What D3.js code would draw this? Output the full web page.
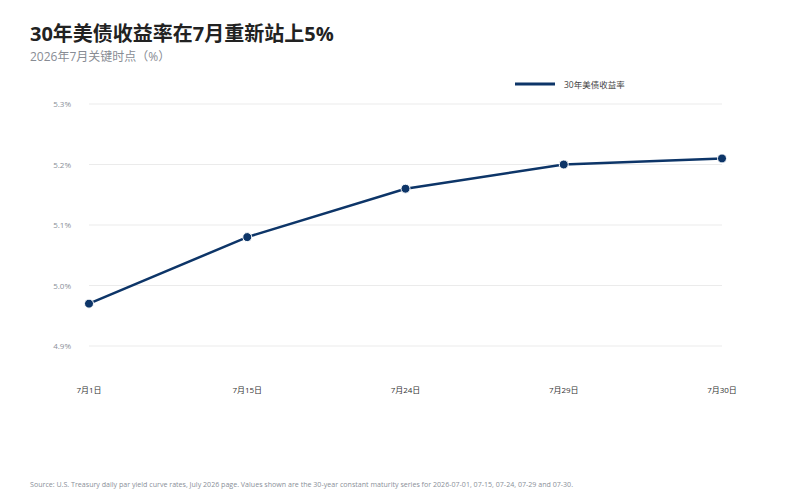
<!DOCTYPE html>
<html>
<head>
<meta charset="utf-8">
<script src="https://cdn.jsdelivr.net/npm/d3@7.9.0/dist/d3.min.js"></script>
<style>
  body { margin: 0; background: #fff; }
  svg { display: block; font-family: "Open Sans", "Noto Sans CJK SC", sans-serif; }
</style>
</head>
<body>
<svg width="792" height="496"></svg>
<script>
const dates = ['7月1日', '7月15日', '7月24日', '7月29日', '7月30日'];
const yields = [4.97, 5.08, 5.16, 5.20, 5.21];
const yTicks = [4.9, 5.0, 5.1, 5.2, 5.3];

const svg = d3.select('svg');
const color = '#0d3568';

const x = d3.scalePoint().domain(dates).range([89, 722]).padding(0);
const y = d3.scaleLinear().domain([4.9, 5.3]).range([346, 104]);

// title
svg.append('text')
  .attr('x', 30).attr('y', 41)
  .attr('font-size', 20).attr('font-weight', 700).attr('fill', '#222')
  .text('30年美债收益率在7月重新站上5%');
svg.append('text')
  .attr('x', 30).attr('y', 61)
  .attr('font-size', 12).attr('fill', '#888c94')
  .text('2026年7月关键时点（%）');

// grid
svg.append('g')
  .selectAll('line')
  .data(yTicks)
  .join('line')
  .attr('x1', 89).attr('x2', 722)
  .attr('y1', d => y(d)).attr('y2', d => y(d))
  .attr('stroke', '#ebebeb').attr('stroke-width', 1);

// y axis labels
svg.append('g')
  .selectAll('text')
  .data(yTicks)
  .join('text')
  .attr('x', 71).attr('y', d => y(d) + 3)
  .attr('text-anchor', 'end')
  .attr('font-size', 8).attr('fill', '#8a8f99')
  .text(d => d3.format('.1f')(d) + '%');

// x axis labels
svg.append('g')
  .selectAll('text')
  .data(dates)
  .join('text')
  .attr('x', d => x(d)).attr('y', 393)
  .attr('text-anchor', 'middle')
  .attr('font-size', 8).attr('fill', '#333')
  .text(d => d);

// line
const data = dates.map((d, i) => ({ date: d, value: yields[i] }));
const line = d3.line().x(d => x(d.date)).y(d => y(d.value));

svg.append('path')
  .datum(data)
  .attr('d', line)
  .attr('fill', 'none')
  .attr('stroke', color)
  .attr('stroke-width', 2.5);

svg.append('g')
  .selectAll('circle')
  .data(data)
  .join('circle')
  .attr('cx', d => x(d.date))
  .attr('cy', d => y(d.value))
  .attr('r', 4.5)
  .attr('fill', color)
  .attr('stroke', '#fff')
  .attr('stroke-width', 1);

// legend
svg.append('line')
  .attr('x1', 515).attr('x2', 555)
  .attr('y1', 84).attr('y2', 84)
  .attr('stroke', color).attr('stroke-width', 3);
svg.append('text')
  .attr('x', 564).attr('y', 87.5)
  .attr('font-size', 8.5).attr('fill', '#444')
  .text('30年美债收益率');

// source
svg.append('text')
  .attr('x', 30).attr('y', 487)
  .attr('font-size', 6.5).attr('fill', '#8a8f99')
  .attr('textLength', 543).attr('lengthAdjust', 'spacingAndGlyphs')
  .text('Source: U.S. Treasury daily par yield curve rates, July 2026 page. Values shown are the 30-year constant maturity series for 2026-07-01, 07-15, 07-24, 07-29 and 07-30.');
</script>
</body>
</html>
